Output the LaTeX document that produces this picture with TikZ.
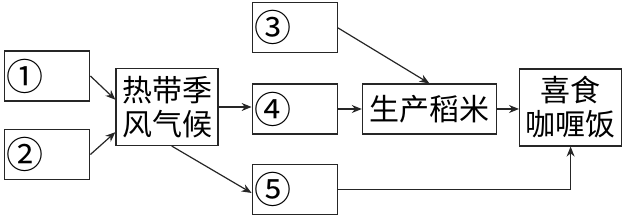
\documentclass[tikz,border=0pt]{standalone}
\usepackage{fontspec}
\setmainfont{Noto Sans CJK SC}
\usetikzlibrary{positioning, arrows.meta}

\begin{document}
\begin{tikzpicture}[
        node distance = 15pt and 12pt,
        every node/.style = {font=\fontsize{15}{17}\selectfont},
        box/.style = {draw=black!85, line width=0.6pt, inner sep=1.5pt, align=center},
        numbox/.style = {box, minimum height=25pt, text width=40.5pt, inner xsep=1pt, align=left, font=\fontsize{18.5}{19}\selectfont},
        txtbox/.style = {box, minimum height=38.5pt, minimum width=51pt},
        arrow/.style = {-{Stealth[length=5pt, width=4pt]}, line width=0.6pt, draw=black!85},
    ]
        \useasboundingbox (0,0) rectangle (311pt,-109pt);
        \node[txtbox] (climate) at (83.5pt,-53.5pt) {热带季\\风气候};
        \node[numbox, right=16.5pt of climate, yshift=-1pt] (n4) {④};
        \node[numbox, above=of n4] (n3) {③};
        \node[numbox, below=14.5pt of n4] (n5) {⑤};
        \node[numbox, left=12.5pt of climate, yshift=15.5pt] (n1) {①};
        \node[numbox, left=12.5pt of climate, yshift=-23.75pt] (n2) {②};
        \node[box, minimum height=25pt, minimum width=67pt, right=of n4] (rice) {生产稻米};
        \node[txtbox, right=11pt of rice, yshift=0.75pt] (curry) {喜食\\咖喱饭};
        \draw[arrow] (n1.east) -- (climate.172);
        \draw[arrow] (n2.east) -- (climate.206);
        \draw[arrow] (climate) -- (climate -| n4.west);
        \draw[arrow] (climate.277) -- (n5.185);
        \draw[arrow] (n3.east) -- (rice.north);
        \draw[arrow] (n4) -- (rice);
        \draw[arrow] (rice) -- (rice -| curry.west);
        \draw[arrow] (n5.east) -| (curry.south);
    \end{tikzpicture}
\end{document}
